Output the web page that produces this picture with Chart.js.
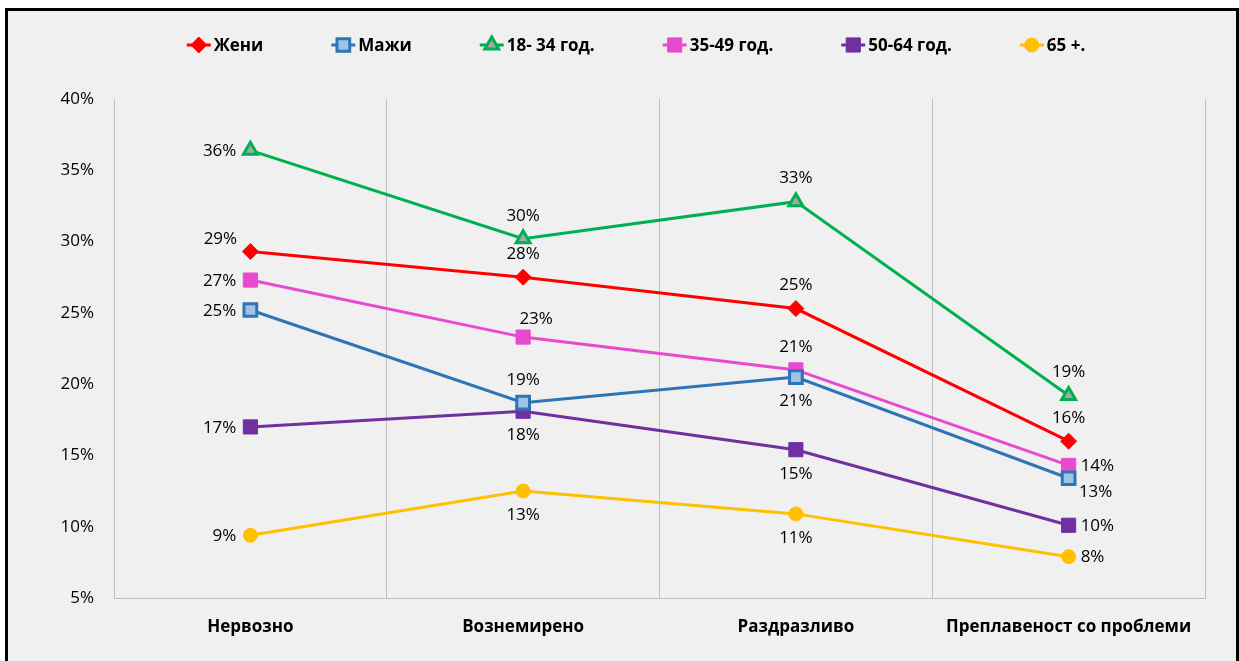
<!DOCTYPE html>
<html>
<head>
<meta charset="utf-8">
<script src="https://cdn.jsdelivr.net/npm/chart.js@4/dist/chart.umd.min.js"></script>
<style>
  html, body { margin: 0; padding: 0; background: #fff; overflow: hidden; }
  #frame { position: absolute; left: 5px; top: 8px; width: 1228px; height: 660px; border: 3px solid #000; background: #F0F0F0; }
  #c { position: absolute; left: 0; top: 0; }
</style>
</head>
<body>
<div id="frame"></div>
<canvas id="c" width="1239" height="661"></canvas>
<script>
// categories and series (percent)
const categories = ['Нервозно', 'Вознемирено', 'Раздразливо', 'Преплавеност со проблеми'];
const zeni    = [29.3, 27.5, 25.3, 16.0];
const mazi    = [25.2, 18.7, 20.5, 13.4];
const age1834 = [36.4, 30.2, 32.8, 19.2];
const age3549 = [27.3, 23.3, 21.0, 14.3];
const age5064 = [17.0, 18.1, 15.4, 10.1];
const age65   = [9.4, 12.5, 10.9, 7.9];
const yTicks  = [5, 10, 15, 20, 25, 30, 35, 40];

// where each value label sits relative to its point
const labelOffsets = {
    left:       { dx: -14, dy: 1,   align: 'right' },
    right:      { dx: 12,  dy: 1,   align: 'left' },
    above:      { dx: 0,   dy: -23, align: 'center' },
    below:      { dx: 0,   dy: 24,  align: 'center' },
    aboveLeft:  { dx: -30, dy: -12, align: 'center' },
    aboveRight: { dx: 13,  dy: -18, align: 'center' },
    belowRight: { dx: 27,  dy: 14,  align: 'center' }
};

const FONT = '"Open Sans", "Noto Sans", sans-serif';

function series(label, data, color, style, extra, places) {
    return Object.assign({
        label, data,
        borderColor: color,
        backgroundColor: color,
        pointBorderColor: color,
        pointBackgroundColor: color,
        borderWidth: 3,
        pointStyle: style,
        pointRadius: 8,
        pointHoverRadius: 8,
        pointBorderWidth: 1,
        tension: 0,
        labelPlaces: places
    }, extra);
}

const datasets = [
    series('Жени', zeni, '#FF0000', 'rectRot', { pointRadius: 8 }, ['aboveLeft', 'above', 'above', 'above']),
    series('Мажи', mazi, '#2E75B6', 'rect', { pointRadius: 9, pointBackgroundColor: '#9DC3E6', pointBorderWidth: 3 }, ['left', 'above', 'below', 'belowRight']),
    series('18- 34 год.', age1834, '#00B050', 'triangle', { pointRadius: 8, pointBackgroundColor: '#A6A6A6', pointBorderWidth: 3 }, ['left', 'above', 'above', 'above']),
    series('35-49 год.', age3549, '#E84ACF', 'rect', { pointRadius: 10 }, ['left', 'aboveRight', 'above', 'right']),
    series('50-64 год.', age5064, '#7030A0', 'rect', { pointRadius: 10 }, ['left', 'below', 'below', 'right']),
    series('65 +.', age65, '#FFC000', 'circle', { pointRadius: 7 }, ['left', 'below', 'below', 'right'])
];

const valueLabels = {
    id: 'valueLabels',
    afterDatasetsDraw(chart) {
        const ctx = chart.ctx;
        ctx.save();
        ctx.font = '17px ' + FONT;
        ctx.fillStyle = '#000';
        ctx.textBaseline = 'middle';
        chart.data.datasets.forEach((ds, i) => {
            chart.getDatasetMeta(i).data.forEach((pt, j) => {
                const o = labelOffsets[ds.labelPlaces[j]];
                ctx.textAlign = o.align;
                ctx.fillText(Math.round(ds.data[j]) + '%', pt.x + o.dx, pt.y + o.dy);
            });
        });
        ctx.restore();
    }
};

// Excel-like legend: short line through the marker, then bold text
const lineLegend = {
    id: 'lineLegend',
    afterDraw(chart) {
        const ctx = chart.ctx;
        const y = 45;
        ctx.save();
        ctx.font = 'bold 17px ' + FONT;
        const gap = 68;
        const widths = chart.data.datasets.map(ds => 27 + ctx.measureText(ds.label).width);
        const total = widths.reduce((a, b) => a + b, 0) + gap * (widths.length - 1);
        let x = 636 - total / 2;
        chart.data.datasets.forEach((ds, i) => {
            const cx = x + 12;
            ctx.strokeStyle = ds.borderColor;
            ctx.lineWidth = 3;
            ctx.beginPath();
            ctx.moveTo(cx - 12, y);
            ctx.lineTo(cx + 12, y);
            ctx.stroke();
            ctx.fillStyle = ds.pointBackgroundColor;
            ctx.strokeStyle = ds.pointBorderColor;
            ctx.lineWidth = ds.pointBorderWidth;
            Chart.helpers.drawPoint(ctx, {
                pointStyle: ds.pointStyle,
                radius: ds.pointRadius,
                rotation: 0,
                borderWidth: ds.pointBorderWidth
            }, cx, y);
            ctx.fillStyle = '#000';
            ctx.textAlign = 'left';
            ctx.textBaseline = 'middle';
            ctx.fillText(ds.label, cx + 15, y + 1);
            x += widths[i] + gap;
        });
        ctx.restore();
    }
};

new Chart(document.getElementById('c'), {
    type: 'line',
    data: { labels: categories, datasets },
    options: {
        responsive: false,
        animation: false,
        layout: { padding: { top: 99, right: 34, bottom: 0, left: 0 } },
        plugins: {
            legend: { display: false },
            tooltip: { enabled: false }
        },
        scales: {
            x: {
                offset: true,
                grid: { display: true, offset: true, color: '#BFBFBF', lineWidth: 1, drawTicks: false },
                border: { display: true, color: '#BFBFBF', width: 1 },
                ticks: { color: '#000', padding: 19, font: { family: FONT, size: 17, weight: 'bold' } },
                afterFit(s) { s.height = 63; }
            },
            y: {
                min: 5,
                max: 40,
                afterBuildTicks(s) { s.ticks = yTicks.map(v => ({ value: v })); },
                grid: { display: false, drawTicks: false },
                border: { display: true, color: '#BFBFBF', width: 1 },
                ticks: { color: '#000', padding: 20, font: { family: FONT, size: 17 }, callback: v => v + '%' },
                afterFit(s) { s.width = 114; }
            }
        }
    },
    plugins: [valueLabels, lineLegend]
});
</script>
</body>
</html>
